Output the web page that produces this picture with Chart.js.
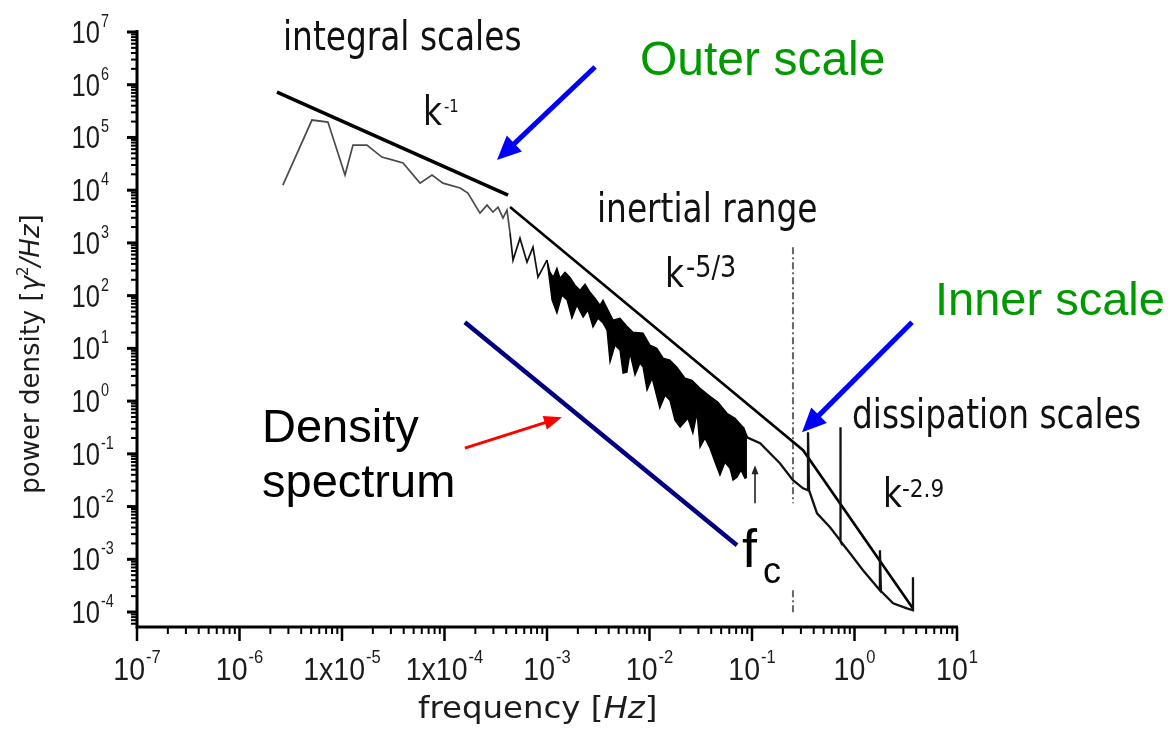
<!DOCTYPE html>
<html>
<head>
<meta charset="utf-8">
<script src="https://cdn.jsdelivr.net/npm/chart.js@4.4.1/dist/chart.umd.min.js"></script>
<style>
  html, body { margin: 0; padding: 0; background: #fff; }
  #wrap { width: 1170px; height: 730px; position: relative; }
</style>
</head>
<body>
<div id="wrap"><canvas id="spectrum"></canvas></div>
<script>
// measured spectrum, integral scales up to where the noisy band starts
const lowFreq  = [2.65e-6, 5.09e-6, 7.29e-6, 1.07e-5, 1.28e-5, 1.75e-5, 2.45e-5, 3.15e-5, 3.94e-5, 5.77e-5,
                  7.55e-5, 9.66e-5, 1.42e-4, 1.69e-4, 2.22e-4, 2.60e-4, 2.97e-4, 3.33e-4, 3.72e-4, 4.07e-4,
                  4.36e-4, 4.66e-4, 5.45e-4, 6.38e-4, 7.30e-4, 8.17e-4, 1.00e-3];
const lowPower = [1.25e4, 2.14e5, 1.96e5, 1.94e4, 7.18e4, 7.18e4, 4.25e4, 3.72e4, 3.27e4, 1.36e4,
                  1.94e4, 1.36e4, 1.10e4, 8.81e3, 3.67e3, 5.21e3, 3.84e3, 4.78e3, 2.96e3, 4.19e3,
                  1.53e3, 472, 1.23e3, 432, 832, 224, 472];

// inertial range: the dense noisy band, upper and lower envelope
const bandUpperFreq  = [1.00e-3, 1.07e-3, 1.15e-3, 1.25e-3, 1.34e-3, 1.50e-3, 1.67e-3, 1.88e-3, 2.10e-3,
                        2.35e-3, 2.63e-3, 2.94e-3, 3.29e-3, 3.52e-3, 4.41e-3, 5.15e-3, 6.02e-3, 6.90e-3,
                        8.65e-3, 1.01e-2, 1.18e-2, 1.36e-2, 1.58e-2, 1.85e-2, 2.22e-2, 2.60e-2, 3.11e-2,
                        3.89e-2, 4.66e-2, 5.70e-2, 6.83e-2, 8.17e-2, 8.93e-2];
const bandUpperPower = [472, 279, 224, 333, 215, 279, 224, 158, 127,
                        165, 116, 89.7, 66.1, 82.2, 34.3, 37.4, 26.4, 20.3,
                        19.4, 11.5, 10.1, 6.52, 5.97, 4.40, 2.72, 2.49, 1.76,
                        1.24, 0.953, 0.589, 0.474, 0.320, 0.206];
const bandLowerFreq  = [1.00e-3, 1.12e-3, 1.25e-3, 1.40e-3, 1.57e-3, 1.75e-3, 1.96e-3, 2.25e-3, 2.51e-3,
                        2.81e-3, 3.15e-3, 3.52e-3, 3.85e-3, 4.12e-3, 4.61e-3, 5.15e-3, 5.52e-3, 6.02e-3,
                        6.45e-3, 7.22e-3, 8.07e-3, 8.65e-3, 9.46e-3, 1.06e-2, 1.26e-2, 1.42e-2, 1.58e-2,
                        1.77e-2, 1.99e-2, 2.37e-2, 2.65e-2, 2.91e-2, 3.11e-2, 3.48e-2, 3.89e-2, 4.36e-2,
                        4.87e-2, 5.45e-2, 6.09e-2, 6.53e-2, 7.14e-2, 7.81e-2, 8.54e-2, 8.93e-2];
const bandLowerPower = [472, 82.2, 46.5, 102, 82.2, 37.4, 66.1, 39.1, 53.1,
                        25.3, 37.4, 30.1, 22.1, 5.47, 11.5, 9.25, 3.38, 3.53,
                        8.11, 3.10, 5.24, 4.40, 1.61, 2.72, 0.733, 1.29, 1.04,
                        0.434, 0.320, 0.474, 0.246, 0.589, 0.133, 0.198, 0.128, 0.0693,
                        0.0393, 0.0693, 0.0533, 0.0316, 0.0360, 0.0489, 0.0344, 0.0360];

// dissipation range tail, spikes included
const tailFreq  = [8.17e-2, 8.93e-2, 0.120, 0.187, 0.251, 0.315, 0.352, 0.352, 0.360, 0.431, 0.577,
                   0.723, 0.723, 0.738, 0.904, 1.21, 1.77, 1.77, 1.81, 2.38, 3.25, 3.72, 3.72];
const tailPower = [0.320, 0.206, 0.159, 0.0664, 0.0316, 0.0222, 0.0204, 0.257, 0.0204, 7.46e-3, 4.05e-3,
                   2.30e-3, 0.320, 2.20e-3, 1.30e-3, 6.18e-4, 2.58e-4, 1.48e-3, 2.50e-4, 1.46e-4, 1.17e-4, 1.08e-4, 4.55e-4];

// power law fits
const k1Freq   = [2.32e-6, 4.17e-4];
const k1Power  = [7.26e5, 8.07e3];
const kInFreq  = [4.36e-4, 0.315, 3.72];
const kInPower = [4.78e3, 0.117, 1.17e-4];

// density spectrum guide line
const densityFreq  = [1.58e-4, 7.14e-2];
const densityPower = [31.4, 1.85e-3];

// dash-dot cut-off marker
const cutFreq  = [0.251, 0.251, 0.251, 0.251, 0.251];
const cutPower = [832, 0.0116, null, 2.58e-4, 9.87e-5];

// f_c marker arrow
const fcFreq  = 0.107;
const fcPower = [0.0116, 0.0608];

// axes
const xMin = 1e-7, xMax = 10;
const yMin = 5.2e-5, yMax = 1e7;
const xTicks    = [1e-7, 1e-6, 1e-5, 1e-4, 1e-3, 1e-2, 1e-1, 1, 10];
const xTickBase = ['10', '10', '1x10', '1x10', '10', '10', '10', '10', '10'];
const xTickExp  = ['-7', '-6', '-5', '-4', '-3', '-2', '-1', '0', '1'];
const yTicks    = [1e7, 1e6, 1e5, 1e4, 1e3, 1e2, 1e1, 1, 1e-1, 1e-2, 1e-3, 1e-4];
const yTickExp  = ['7', '6', '5', '4', '3', '2', '1', '0', '-1', '-2', '-3', '-4'];

// arrows (tail -> head), in data units
const arrows = [
  { from: [2.94e-3, 2.17e6], to: [3.25e-4, 3.72e4], color: '#0000ff', lw: 5, head: 24, headW: 22 },
  { from: [3.64, 31.4],      to: [0.308, 0.257],    color: '#0000ff', lw: 5, head: 24, headW: 22 },
  { from: [1.58e-4, 0.128],  to: [1.40e-3, 0.494],  color: '#ff0000', lw: 3, head: 18, headW: 14 }
];

const pts = (xs, ys) => xs.map((x, i) => ({ x: x, y: ys[i] }));

const VER = '"DejaVu Sans"';
const ARI = '"Liberation Sans", Arial';

function txt(ctx, s, x, y, font, color, sx, align) {
  ctx.save();
  ctx.translate(x, y);
  ctx.scale(sx || 1, 1);
  ctx.font = font;
  ctx.fillStyle = color;
  ctx.textAlign = align || 'left';
  ctx.textBaseline = 'alphabetic';
  ctx.fillText(s, 0, 0);
  ctx.restore();
}

function tw(ctx, s, font, sx) {
  ctx.save();
  ctx.font = font;
  const w = ctx.measureText(s).width * (sx || 1);
  ctx.restore();
  return w;
}

// runs of text: [string, font, dy]
function runs(ctx, parts, x, y, color, sx) {
  let cx = x;
  parts.forEach(p => {
    txt(ctx, p[0], cx, y + (p[2] || 0), p[1], color, sx);
    cx += tw(ctx, p[0], p[1], sx);
  });
}

function arrow(ctx, x0, y0, x1, y1, color, lw, head, headW) {
  const a = Math.atan2(y1 - y0, x1 - x0);
  const c = Math.cos(a), s = Math.sin(a);
  ctx.save();
  ctx.strokeStyle = color;
  ctx.fillStyle = color;
  ctx.lineWidth = lw;
  ctx.beginPath();
  ctx.moveTo(x0, y0);
  ctx.lineTo(x1 - c * head * 0.8, y1 - s * head * 0.8);
  ctx.stroke();
  ctx.beginPath();
  ctx.moveTo(x1, y1);
  ctx.lineTo(x1 - c * head - s * headW / 2, y1 - s * head + c * headW / 2);
  ctx.lineTo(x1 - c * head + s * headW / 2, y1 - s * head - c * headW / 2);
  ctx.closePath();
  ctx.fill();
  ctx.restore();
}

const decor = {
  id: 'decor',
  afterDraw(chart) {
    const ctx = chart.ctx;
    const xs = chart.scales.x, ys = chart.scales.y;
    const area = chart.chartArea;
    const ink = '#1c1c1c';

    // axis lines
    ctx.save();
    ctx.strokeStyle = '#000';
    ctx.lineWidth = 3;
    ctx.beginPath();
    ctx.moveTo(area.left, area.top - 2);
    ctx.lineTo(area.left, area.bottom);
    ctx.lineTo(area.right + 1, area.bottom);
    ctx.stroke();

    // minor ticks
    ctx.lineWidth = 2;
    for (let d = -8; d <= 7; d++) {
      for (let m = 2; m <= 9; m++) {
        const v = m * Math.pow(10, d);
        if (v > xMin && v < xMax) {
          const px = xs.getPixelForValue(v);
          ctx.beginPath(); ctx.moveTo(px, area.bottom); ctx.lineTo(px, area.bottom + 7); ctx.stroke();
        }
        if (v > yMin && v < yMax) {
          const py = ys.getPixelForValue(v);
          ctx.beginPath(); ctx.moveTo(area.left, py); ctx.lineTo(area.left - 6, py); ctx.stroke();
        }
      }
    }
    // major ticks
    ctx.lineWidth = 2.5;
    xTicks.forEach(v => {
      const px = xs.getPixelForValue(v);
      ctx.beginPath(); ctx.moveTo(px, area.bottom); ctx.lineTo(px, area.bottom + 14); ctx.stroke();
    });
    ctx.lineWidth = 3;
    yTicks.forEach(v => {
      const py = ys.getPixelForValue(v);
      ctx.beginPath(); ctx.moveTo(area.left, py); ctx.lineTo(area.left - 10, py); ctx.stroke();
    });
    ctx.restore();

    // tick labels
    const xbF = '31px ' + ARI, xeF = '18px ' + ARI;
    xTicks.forEach((v, i) => {
      const px = xs.getPixelForValue(v);
      const wb = tw(ctx, xTickBase[i], xbF, 0.92);
      const we = tw(ctx, xTickExp[i], xeF, 0.92);
      const x0 = px - (wb + we + 1) / 2;
      txt(ctx, xTickBase[i], x0, 680, xbF, ink, 0.92);
      txt(ctx, xTickExp[i], x0 + wb + 1, 663, xeF, ink, 0.92);
    });
    const ybF = '32px ' + ARI, yeF = '18px ' + ARI;
    yTicks.forEach((v, i) => {
      const py = ys.getPixelForValue(v);
      txt(ctx, '10', 100, py + 11, ybF, ink, 0.8, 'right');
      txt(ctx, yTickExp[i], 101, py - 5, yeF, ink, 0.8);
    });

    // axis titles
    runs(ctx, [['frequency [', '30px ' + VER], ['Hz', 'italic 30px ' + VER], [']', '30px ' + VER]],
         418, 718, ink, 1.08);
    const yParts = [['power density [', '26px ' + VER], ['\u03b3', 'italic 26px ' + VER],
                    ['2', '15px ' + VER, -11], ['/Hz', 'italic 26px ' + VER], [']', '26px ' + VER]];
    let yLen = 0;
    yParts.forEach(p => { yLen += tw(ctx, p[0], p[1]); });
    ctx.save();
    ctx.translate(39, 354 + yLen / 2);
    ctx.rotate(-Math.PI / 2);
    runs(ctx, yParts, 0, 0, ink, 1);
    ctx.restore();

    // region labels
    const lab = '40px ' + VER;
    txt(ctx, 'integral scales', 283, 50, lab, '#111', 0.82);
    txt(ctx, 'k', 423, 125, lab, '#111', 0.82);
    txt(ctx, '-1', 444, 112, '18px ' + VER, '#111', 0.82);
    txt(ctx, 'inertial range', 597, 222, lab, '#111', 0.82);
    txt(ctx, 'k', 665, 287, lab, '#111', 0.82);
    txt(ctx, '-5/3', 686, 277, '30px ' + VER, '#111', 0.85);
    txt(ctx, 'dissipation scales', 852, 428, lab, '#111', 0.82);
    txt(ctx, 'k', 883, 507, lab, '#111', 0.82);
    txt(ctx, '-2.9', 902, 497, '24px ' + VER, '#111', 0.9);

    txt(ctx, 'Outer scale', 640, 75, '48px ' + ARI, '#009900', 1);
    txt(ctx, 'Inner scale', 935, 315, '47px ' + ARI, '#009900', 1);
    txt(ctx, 'Density', 262, 442, '47px ' + ARI, '#000', 1);
    txt(ctx, 'spectrum', 262, 497, '47px ' + ARI, '#000', 1);
    txt(ctx, 'f', 742, 567, '54px ' + ARI, '#000', 1);
    txt(ctx, 'c', 763, 583, '36px ' + ARI, '#000', 1);

    // arrows
    arrows.forEach(a => {
      arrow(ctx, xs.getPixelForValue(a.from[0]), ys.getPixelForValue(a.from[1]),
            xs.getPixelForValue(a.to[0]), ys.getPixelForValue(a.to[1]), a.color, a.lw, a.head, a.headW);
    });
    const fx = xs.getPixelForValue(fcFreq);
    arrow(ctx, fx, ys.getPixelForValue(fcPower[0]), fx, ys.getPixelForValue(fcPower[1]), '#222', 1.6, 9, 7);
  }
};

const line = (data, color, width, extra) => Object.assign({
  data: data, borderColor: color, borderWidth: width, pointRadius: 0,
  tension: 0, fill: false, spanGaps: false
}, extra || {});

new Chart(document.getElementById('spectrum'), {
  type: 'line',
  data: {
    datasets: [
      line(pts(bandUpperFreq, bandUpperPower), '#000', 1.3),
      line(pts(bandLowerFreq, bandLowerPower), '#000', 1.3, { fill: '-1', backgroundColor: '#000' }),
      line(pts(lowFreq, lowPower), '#4a4a4a', 1.7, {
        // the spectrum turns into dark spikes past the outer scale
        segment: { borderColor: c => c.p0.parsed.x >= 4.3e-4 ? '#111' : undefined }
      }),
      line(pts(tailFreq, tailPower), '#111', 2.3),
      line(pts(k1Freq, k1Power), '#000', 3.5),
      line(pts(kInFreq, kInPower), '#000', 2.6),
      line(pts(densityFreq, densityPower), '#000080', 4.5),
      line(pts(cutFreq, cutPower), '#666', 2, { borderDash: [7, 3, 2, 3] })
    ]
  },
  options: {
    responsive: true,
    maintainAspectRatio: false,
    animation: false,
    layout: { padding: { left: 0, top: 32, right: 213, bottom: 0 } },
    plugins: { legend: { display: false }, tooltip: { enabled: false } },
    scales: {
      x: {
        type: 'logarithmic', min: xMin, max: xMax,
        grid: { display: false }, ticks: { display: false }, border: { display: false },
        afterFit(s) { s.height = 103; }
      },
      y: {
        type: 'logarithmic', min: yMin, max: yMax,
        grid: { display: false }, ticks: { display: false }, border: { display: false },
        afterFit(s) { s.width = 137; }
      }
    }
  },
  plugins: [decor]
});
</script>
</body>
</html>
